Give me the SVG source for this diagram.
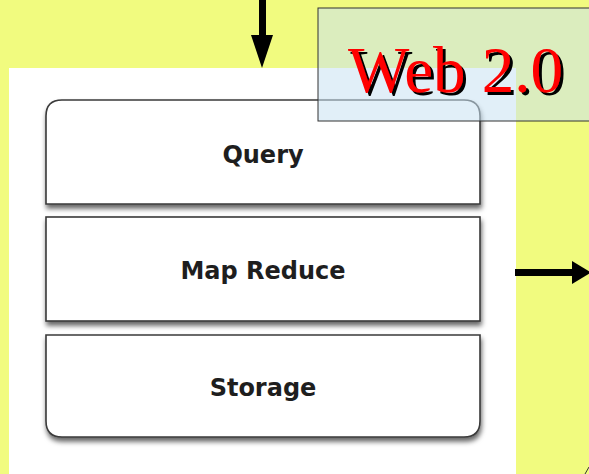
<svg xmlns="http://www.w3.org/2000/svg" width="589" height="474" viewBox="0 0 589 474">
  <style>
    .box { fill: #ffffff; stroke: #3a3a3a; stroke-width: 1.6; filter: url(#shadow); }
    .label { font-family: "DejaVu Sans", "Liberation Sans", sans-serif; font-weight: bold; font-size: 24px; fill: #1e1e1e; text-anchor: middle; }
    .title { font-family: "Liberation Serif", "Times New Roman", serif; font-size: 65px; fill: #FF0000; filter: url(#textshadow); }
    .arrow { fill: #000000; }
  </style>
  <defs>
    <filter id="shadow" x="-10%" y="-10%" width="120%" height="130%">
      <feDropShadow dx="1" dy="4" stdDeviation="2.4" flood-color="#000000" flood-opacity="0.6"/>
    </filter>
    <filter id="textshadow" x="-5%" y="-10%" width="115%" height="130%">
      <feOffset in="SourceAlpha" dx="2.5" dy="2.5" result="off"/>
      <feMerge>
        <feMergeNode in="off"/>
        <feMergeNode in="SourceGraphic"/>
      </feMerge>
    </filter>
  </defs>

  <!-- background -->
  <rect x="0" y="0" width="589" height="474" fill="#F1FB7F"/>
  <rect x="9" y="68" width="507" height="406" fill="#ffffff"/>

  <!-- layer stack -->
  <g id="query">
    <path class="box" d="M46,204 L46,116 Q46,100 62,100 L464,100 Q480,100 480,116 L480,204 Z"/>
    <text class="label" x="263" y="163">Query</text>
  </g>
  <g id="map-reduce">
    <rect class="box" x="46" y="217" width="434" height="104"/>
    <text class="label" x="263" y="279">Map Reduce</text>
  </g>
  <g id="storage">
    <path class="box" d="M46,335 L480,335 L480,421 Q480,437 464,437 L62,437 Q46,437 46,421 Z"/>
    <text class="label" x="263" y="396">Storage</text>
  </g>

  <!-- Web 2.0 label box -->
  <g id="web20">
    <rect x="318" y="8" width="280" height="113" fill="#C9E2F2" fill-opacity="0.55" stroke="#333333" stroke-width="1"/>
    <text class="title" x="348" y="92">Web 2.0</text>
  </g>

  <!-- connectors -->
  <g id="connectors">
    <rect class="arrow" x="259" y="0" width="7" height="36"/>
    <polygon class="arrow" points="251,35 273,35 262,68"/>
    <rect class="arrow" x="515" y="269" width="58" height="7"/>
    <polygon class="arrow" points="572,261 591,272.5 572,284"/>
    <path d="M585,474 L589,467" stroke="#333333" stroke-width="1" fill="none"/>
  </g>
</svg>
